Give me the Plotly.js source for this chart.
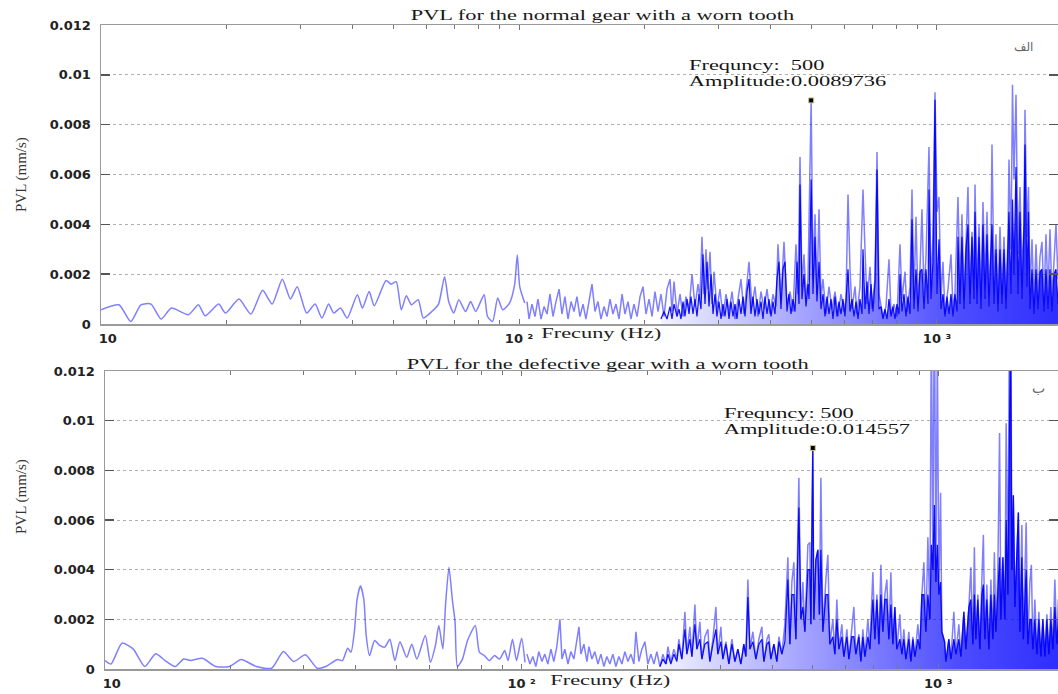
<!DOCTYPE html>
<html>
<head>
<meta charset="utf-8">
<script src="https://cdn.plot.ly/plotly-3.0.1.min.js"></script>
<style>
html,body{margin:0;padding:0;background:#ffffff;}
#plot{width:1058px;height:694px;}
</style>
</head>
<body>
<div id="plot"></div>
<script>
// ---------------- DATA ----------------
// Panel titles / labels
const panelTitles = ['PVL for the normal gear with a worn tooth', 'PVL for the defective gear with a worn tooth'];
const xTitle = 'Frecuny (Hz)';
const yTitle = 'PVL (mm/s)';
const peakFreqLabels = ['Frequncy:\u00a0\u00a0500', 'Frequncy:\u00a0500'];
const peakAmpLabels = ['Amplitude:0.0089736', 'Amplitude:0.014557'];
const panelLetters = ['\u0627\u0644\u0641', '\u0628'];

// Tick labels
const freqTickVals = [10, 100, 1000];
const freqTickText = ['\u00a0\u00a0\u00a010', '10\u00a0\u00b2', '10\u00a0\u00b3'];
const freqMinorVals = [20,30,40,50,60,70,80,90,200,300,400,500,600,700,800,900];
const ampTickVals = [0,0.002,0.004,0.006,0.008,0.01,0.012];
const ampTickText = ['0','0.002','0.004','0.006','0.008','0.01','0.012'];

// Marked peak
const markerFreq = [500];
const topMarkerAmp = [0.0089736];
const botMarkerAmp = [0.0089];

// ---- Top panel (normal gear): low-frequency part ----
const topLowFreq = [10,11.04,11.78,12.46,13.17,13.93,14.74,16.18,17.1,17.75,
  19.12,19.85,21.38,22.83,24.36,25.67,27.15,28.39,29.47,31.04,
  32.52,33.76,35.04,36.03,37.4,38.82,41.05,42.21,43.81,45.05,
  48.08,49.45,50.85,52.29,53.77,55.29,57.4,59.02,61.85,64.19,
  66.37,67.89,69.81,71.78,74.5,76.61,78.77,82.53,84.08,86.47,
  88.93,91.45,94.91,97.6,99.07,100.4,103.2];
const topLowAmp = [0.00057,0.00077,0.0001,0.00077,0.0008,0.0002,0.00064,0.00037,0.00077,0.00033,
  0.0008,0.00044,0.001,0.0004,0.00135,0.0008,0.0018,0.001,0.0015,0.00044,
  0.0008,0.00024,0.0008,0.00044,0.00064,0.00024,0.00117,0.00064,0.0013,0.00073,
  0.00175,0.0016,0.0017,0.00057,0.00113,0.00077,0.00097,0.00024,0.0005,0.0008,
  0.0019,0.0009,0.00044,0.00097,0.0005,0.0009,0.0005,0.00117,0.0003,0.0001,
  0.00104,0.00057,0.00084,0.00157,0.00277,0.0015,0.00084];

// ---- Top panel: dense high-frequency part (full envelope) ----
const topHighFreq = [104.5,105.7,107.4,109.2,111.0,112.9,114.8,116.7,118.6,120.6,
  122.6,124.7,126.7,128.8,131.0,133.2,135.4,137.6,139.9,142.3,
  144.6,147.1,149.5,152.0,154.5,157.1,159.7,162.4,165.1,167.8,
  170.6,173.5,176.4,179.3,182.3,185.3,188.4,191.6,194.8,198.0,
  201.3,204.7,208.1,211.5,215.1,218.6,222.3,226.0,229.8,232.3,
  234.9,238.8,242.8,246.8,250.9,255.1,259.4,263.7,268.1,271.0,
  274.0,277.1,280.1,283.2,286.4,289.6,292.8,297.6,302.6,307.6,
  312.8,318.0,323.3,328.7,334.1,339.7,345.4,351.1,355.0,360.9,
  366.9,373.1,379.3,385.6,392.0,398.6,405.2,411.9,416.5,423.4,
  430.5,437.7,445.0,452.4,459.9,465.0,470.2,475.4,480.6,486.0,
  491.4,500,505.1,510.7,516.3,522.1,527.8,533.7,542.6,551.6,
  560.8,570.2,579.7,589.3,599.1,605.8,612.5,619.3,626.1,636.6,
  643.6,654.3,665.2,672.6,680.1,691.4,699.1,710.7,718.6,726.5,
  734.6,742.7,755.1,767.7,776.2,789.1,802.3,815.6,824.7,838.4,
  847.7,861.8,871.4,881.0,890.8,900.7,910.6,920.7,930.9,941.2,
  956.9,967.5,978.2,989.1,1000,1011.1,1022.3,1033.6,1045.1,1062.5,
  1080.2,1092.1,1104.2,1122.6,1135.1,1147.6,1160.4,1173.2,1186.2,1199.4,
  1212.6,1226.1,1232.9,1246.5,1260.3,1274.3,1288.4,1302.7,1317.1,1331.7,
  1346.4,1353.9,1368.9,1384.1,1399.4,1414.9,1430.6,1446.4,1462.5,1478.7,
  1486.8,1503.3,1515.8,1528.3,1545.3,1562.4,1579.7,1597.2,1614.9,1623.8,
  1641.8,1655.4,1669.2,1687.6,1706.3,1725.3,1744.4,1763.7,1783.2,1803.0,
  1822.9,1843.1,1863.6,1884.2,1905.1,1926.2,1947.5];
const topHighAmp = [0.0009,0.0002,0.0008,0.0003,0.0010,0.0002,0.0007,0.0004,0.0012,0.0003,
  0.0009,0.0014,0.0004,0.0011,0.0002,0.0009,0.0005,0.0011,0.0003,0.0008,
  0.0002,0.0010,0.0016,0.0005,0.0009,0.0002,0.0007,0.0003,0.0010,0.0004,
  0.0008,0.0002,0.0012,0.0004,0.0009,0.0002,0.0008,0.0003,0.0011,0.0015,
  0.0004,0.0010,0.0003,0.0013,0.0005,0.0012,0.0003,0.0014,0.0018,0.0005,
  0.0017,0.0004,0.0012,0.0003,0.0011,0.0006,0.0020,0.0007,0.0016,0.0010,
  0.0035,0.0012,0.0030,0.0014,0.0029,0.0008,0.0021,0.0006,0.0014,0.0003,
  0.0012,0.0005,0.0013,0.0002,0.0011,0.0018,0.0004,0.0016,0.0025,0.0007,
  0.0015,0.0003,0.0013,0.0006,0.0014,0.0004,0.0012,0.0007,0.0032,0.0010,
  0.0033,0.0008,0.0013,0.0005,0.0032,0.0012,0.0067,0.0015,0.0028,0.0010,
  0.0018,0.0089736,0.0018,0.0044,0.0012,0.0046,0.0010,0.0018,0.0004,0.0015,
  0.0006,0.0013,0.0003,0.0012,0.0005,0.0010,0.0052,0.0022,0.0006,0.0015,
  0.0004,0.0015,0.0054,0.0030,0.0008,0.0023,0.0006,0.0018,0.0069,0.0012,
  0.0007,0.0003,0.0007,0.0026,0.0004,0.0008,0.0003,0.0032,0.0010,0.0021,
  0.0005,0.0015,0.0054,0.0010,0.0043,0.0008,0.0022,0.0046,0.0012,0.0027,
  0.0071,0.0015,0.0035,0.0093,0.0045,0.0051,0.0010,0.0025,0.0004,0.0014,
  0.0028,0.0006,0.0012,0.0051,0.0015,0.0044,0.0010,0.0033,0.0055,0.0012,
  0.0037,0.0018,0.0056,0.0014,0.0040,0.0010,0.0049,0.0016,0.0045,0.0012,
  0.0032,0.0072,0.0016,0.0036,0.0008,0.0039,0.0012,0.0035,0.0010,0.0035,
  0.0066,0.0030,0.0096,0.0058,0.0092,0.0028,0.0055,0.0020,0.0040,0.0086,
  0.0035,0.0055,0.0012,0.0034,0.0008,0.0032,0.0010,0.0027,0.0033,0.0009,
  0.0036,0.0012,0.0038,0.0010,0.0028,0.0040,0.0018];

// ---- Top panel: dark dense core of the spectrum ----
const topCoreFreq = [218.6,222.3,226.0,229.8,232.3,234.9,238.8,241.4,
  244.1,246.8,249.5,252.3,255.1,257.9,260.8,263.7,266.6,269.5,
  272.5,275.5,278.6,281.7,284.8,288.0,291.2,294.4,297.6,300.9,
  304.3,307.6,311.0,314.5,318.0,321.5,325.1,328.7,332.3,336.0,
  339.7,343.5,347.3,351.1,355.0,358.9,362.9,366.9,371.0,375.1,
  379.3,383.5,387.7,392.0,396.4,400.8,405.2,409.7,414.2,418.8,
  423.4,428.1,432.9,437.7,442.5,447.4,452.4,457.4,462.5,467.6,
  470.2,475.4,480.6,486.0,491.4,494.1,500,505.1,510.7,516.3,
  522.1,527.8,533.7,539.6,545.6,551.6,557.7,563.9,570.2,576.5,
  582.9,589.3,595.8,602.4,612.5,619.3,626.1,633.1,640.1,647.2,
  654.3,661.6,665.2,672.6,680.1,687.6,695.2,702.9,710.7,718.6,
  726.5,734.6,742.7,751.0,759.3,767.7,776.2,784.8,793.5,802.3,
  811.2,815.6,824.7,833.8,843.1,852.4,861.8,871.4,881.0,890.8,
  900.7,910.6,920.7,930.9,941.2,951.7,956.9,967.5,978.2,989.1,
  1000,1011.1,1022.3,1033.6,1045.1,1056.7,1068.4,1080.2,1092.1,1104.2,
  1116.5,1122.6,1135.1,1147.6,1160.4,1173.2,1186.2,1199.4,1212.6,1226.1,
  1232.9,1246.5,1260.3,1274.3,1288.4,1302.7,1317.1,1331.7,1346.4,1353.9,
  1368.9,1384.1,1399.4,1414.9,1430.6,1446.4,1462.5,1478.7,1486.8,1503.3,
  1515.8,1528.3,1545.3,1562.4,1579.7,1597.2,1614.9,1623.8,1641.8,1655.4,
  1669.2,1687.6,1706.3,1725.3,1744.4,1763.7,1783.2,1803.0,1822.9,1843.1,
  1863.6,1884.2,1905.1,1926.2,1947.5];
const topCoreAmp = [0.0002,0.0005,0.0002,0.0007,0.0002,0.0008,0.0003,0.0006,
  0.0002,0.0009,0.0003,0.0010,0.0004,0.0011,0.0004,0.0010,0.0003,0.0012,
  0.0006,0.0028,0.0008,0.0025,0.0007,0.0020,0.0004,0.0012,0.0003,0.0009,
  0.0002,0.0008,0.0003,0.0010,0.0002,0.0009,0.0003,0.0008,0.0002,0.0010,
  0.0004,0.0011,0.0003,0.0013,0.0018,0.0004,0.0011,0.0003,0.0010,0.0004,
  0.0009,0.0002,0.0011,0.0004,0.0010,0.0003,0.0009,0.0004,0.0018,0.0025,
  0.0006,0.0022,0.0025,0.0005,0.0012,0.0004,0.0010,0.0005,0.0025,0.0008,
  0.0056,0.0010,0.0020,0.0007,0.0016,0.0010,0.0058,0.0012,0.0035,0.0009,
  0.0025,0.0006,0.0012,0.0003,0.0011,0.0004,0.0010,0.0002,0.0011,0.0003,
  0.0009,0.0004,0.0010,0.0003,0.0022,0.0005,0.0010,0.0003,0.0009,0.0002,
  0.0010,0.0004,0.0030,0.0006,0.0017,0.0004,0.0016,0.0005,0.0017,0.0062,
  0.0006,0.0007,0.0002,0.0006,0.0002,0.0010,0.0003,0.0007,0.0002,0.0008,
  0.0004,0.0020,0.0005,0.0012,0.0003,0.0011,0.0004,0.0042,0.0006,0.0022,
  0.0005,0.0021,0.0022,0.0006,0.0022,0.0008,0.0054,0.0010,0.0025,0.0090,
  0.0012,0.0034,0.0006,0.0012,0.0003,0.0011,0.0004,0.0012,0.0003,0.0012,
  0.0005,0.0035,0.0008,0.0035,0.0006,0.0030,0.0040,0.0008,0.0035,0.0010,
  0.0045,0.0008,0.0035,0.0006,0.0040,0.0010,0.0036,0.0007,0.0030,0.0040,
  0.0008,0.0030,0.0005,0.0030,0.0008,0.0030,0.0006,0.0032,0.0045,0.0012,
  0.0050,0.0020,0.0063,0.0012,0.0045,0.0010,0.0040,0.0072,0.0015,0.0045,
  0.0006,0.0022,0.0004,0.0022,0.0006,0.0021,0.0022,0.0005,0.0022,0.0006,
  0.0022,0.0005,0.0020,0.0022,0.0008];

// ---- Bottom panel (defective gear): low-frequency part ----
const botLowFreq = [10.0,10.34,10.98,11.68,12.46,13.23,13.94,14.75,15.45,16.04,
  17.13,18.45,19.89,21.23,23.08,25.11,26.81,28.35,30.27,32.31,
  33.86,36.14,37.17,38.23,38.95,39.68,40.28,41.04,41.81,42.36,
  43.16,44.38,45.64,46.94,48.27,49.64,51.05,52.99,54.5,56.05,
  58.73,60.39,62.11,63.28,64.72,65.69,66.93,68.19,69.22,70.13,
  72.12,74.17,77.43,79.19,81.43,83.74,86.12,88.57,91.09,92.81,
  95.08,97.24,100.0,101.9];
const botLowAmp = [0.00034,0.0002,0.00104,0.00081,0.0001,0.00061,0.00034,0.0001,0.0004,0.00034,
  0.00043,0.0001,0.0001,0.00038,0.0001,0.00003,0.0007,0.0003,0.00057,0.00003,
  0.0001,0.00038,0.00034,0.00084,0.00068,0.0015,0.0028,0.00335,0.0028,0.00135,
  0.00054,0.00115,0.00095,0.00088,0.0012,0.00034,0.0011,0.00047,0.001,0.0004,
  0.00135,0.00027,0.00095,0.00175,0.00081,0.0026,0.0041,0.0028,0.0019,0.0001,
  0.0004,0.00115,0.00175,0.00068,0.00054,0.00034,0.00054,0.0004,0.00074,0.00034,
  0.0012,0.00034,0.00124,0.00027];

// ---- Bottom panel: dense high-frequency part (full envelope) ----
const botHighFreq = [103.0,104.7,106.4,108.2,110.0,111.9,113.7,115.6,117.6,119.5,
  121.5,123.6,125.0,127.0,129.2,131.3,133.5,135.8,137.3,138.8,
  141.1,143.5,145.1,147.5,149.9,152.5,155.0,157.6,160.2,162.9,
  165.6,168.4,171.2,174.1,177.0,180.0,183.0,186.0,188.1,191.2,
  194.4,197.7,201.0,204.3,207.8,211.2,214.8,218.4,222.0,224.5,
  228.2,232.0,235.9,238.5,242.5,246.6,249.3,253.5,256.3,260.6,
  263.5,267.9,270.9,275.4,280.0,283.1,287.9,292.7,295.9,300.9,
  304.2,309.3,314.5,319.7,325.1,330.5,336.0,341.6,345.4,349.3,
  353.2,359.1,365.1,371.2,377.4,381.6,388.0,392.3,396.6,403.3,
  410.0,414.6,421.5,428.5,435.7,440.5,445.4,450.4,455.4,463.0,
  468.2,473.4,478.6,486.6,492.0,494.8,500,503.0,508.6,514.3,
  518.6,522.9,528.7,537.5,543.5,549.5,558.7,564.9,571.2,577.6,
  587.2,593.8,603.7,610.4,620.6,627.5,634.5,645.1,652.2,659.5,
  666.8,678.0,685.5,697.0,704.7,712.6,720.5,728.5,736.6,744.8,
  753.0,761.4,769.9,778.4,787.1,795.8,809.1,818.1,827.2,836.4,
  850.4,859.9,869.4,879.1,893.8,903.7,913.8,923.9,934.2,944.6,
  955.1,963.0,971.0,979.1,987.3,995.5,1003.8,1013.2,1020.6,1035.9,
  1043.4,1060.8,1072.6,1090.5,1102.7,1121.1,1133.6,1152.5,1165.3,1184.8,
  1198.0,1211.3,1221.4,1231.5,1245.2,1259.1,1273.1,1283.7,1294.4,1308.7,
  1323.3,1338.0,1352.9,1364.1,1375.5,1390.8,1403.9,1414.0,1429.7,1445.6,
  1456.1,1469.8,1482.0,1491.9,1502.7,1515.2,1527.8,1544.8,1557.6,1570.6,
  1588.1,1601.3,1626.2,1641.6,1659.8,1673.7,1687.6,1706.3,1725.3,1744.5,
  1763.9,1783.5,1803.3,1823.4,1843.6,1864.1,1884.8,1905.8,1927.0,1943.0];
const botHighAmp = [0.0006,0.0002,0.0005,0.0001,0.0007,0.0003,0.0006,0.0002,0.0008,0.0003,
  0.0009,0.0020,0.0004,0.0008,0.0002,0.0007,0.0004,0.0011,0.0017,0.0006,
  0.0010,0.0003,0.0009,0.0004,0.0007,0.0002,0.0006,0.0001,0.0005,0.0002,
  0.0006,0.0001,0.0005,0.0002,0.0007,0.0003,0.0006,0.0002,0.0015,0.0003,
  0.0008,0.0011,0.0002,0.0006,0.0002,0.0007,0.0001,0.0006,0.0002,0.0009,
  0.0003,0.0008,0.0004,0.0012,0.0004,0.0023,0.0006,0.0017,0.0005,0.0026,
  0.0008,0.0019,0.0004,0.0013,0.0016,0.0003,0.0012,0.0025,0.0006,0.0017,
  0.0004,0.0011,0.0002,0.0012,0.0003,0.0008,0.0002,0.0010,0.0005,0.0036,
  0.0008,0.0015,0.0004,0.0012,0.0017,0.0003,0.0012,0.0014,0.0004,0.0010,
  0.0003,0.0013,0.0006,0.0018,0.0045,0.0010,0.0035,0.0043,0.0012,0.0077,
  0.0020,0.0035,0.0015,0.0050,0.0051,0.0018,0.0089,0.0020,0.0044,0.0048,
  0.0022,0.0077,0.0015,0.0036,0.0046,0.0010,0.0020,0.0006,0.0028,0.0008,
  0.0018,0.0005,0.0016,0.0004,0.0017,0.0025,0.0006,0.0014,0.0003,0.0016,
  0.0005,0.0020,0.0008,0.0039,0.0012,0.0030,0.0010,0.0042,0.0015,0.0030,
  0.0036,0.0012,0.0039,0.0010,0.0025,0.0008,0.0022,0.0006,0.0016,0.0004,
  0.0015,0.0003,0.0013,0.0005,0.0018,0.0008,0.0030,0.0043,0.0015,0.0053,
  0.0020,0.0145,0.0040,0.0160,0.0035,0.0130,0.0030,0.0071,0.0015,0.0011,
  0.0003,0.0012,0.0004,0.0023,0.0006,0.0018,0.0005,0.0023,0.0008,0.0025,
  0.0041,0.0010,0.0049,0.0012,0.0030,0.0008,0.0036,0.0054,0.0012,0.0034,
  0.0008,0.0036,0.0012,0.0047,0.0015,0.0040,0.0095,0.0020,0.0045,0.0020,
  0.0099,0.0030,0.0140,0.0170,0.0040,0.0070,0.0025,0.0050,0.0063,0.0015,
  0.0058,0.0012,0.0059,0.0010,0.0035,0.0042,0.0008,0.0028,0.0006,0.0023,
  0.0005,0.0020,0.0005,0.0022,0.0006,0.0025,0.0008,0.0036,0.0010,0.0028];

// ---- Bottom panel: dark dense core ----
const botCoreFreq = [214.8,218.4,222.0,224.5,228.2,232.0,235.9,
  238.5,242.5,246.6,249.3,253.5,256.3,260.6,263.5,267.9,270.9,
  275.4,280.0,283.1,287.9,292.7,295.9,300.9,304.2,309.3,314.5,
  319.7,325.1,330.5,336.0,341.6,345.4,349.3,353.2,359.1,365.1,
  371.2,377.4,381.6,388.0,392.3,396.6,403.3,410.0,414.6,421.5,
  428.5,435.7,440.5,445.4,450.4,455.4,463.0,468.2,473.4,478.6,
  486.6,492.0,494.8,500,503.0,508.6,514.3,518.6,522.9,528.7,
  537.5,543.5,549.5,558.7,564.9,571.2,577.6,587.2,593.8,603.7,
  610.4,620.6,627.5,634.5,645.1,652.2,659.5,666.8,678.0,685.5,
  697.0,704.7,712.6,720.5,728.5,736.6,744.8,753.0,761.4,769.9,
  778.4,787.1,795.8,809.1,818.1,827.2,836.4,850.4,859.9,869.4,
  879.1,893.8,903.7,913.8,923.9,934.2,944.6,955.1,963.0,971.0,
  979.1,987.3,995.5,1003.8,1013.2,1020.6,1035.9,1043.4,1060.8,1072.6,
  1090.5,1102.7,1121.1,1133.6,1152.5,1165.3,1184.8,1198.0,1211.3,1221.4,
  1231.5,1245.2,1259.1,1273.1,1283.7,1294.4,1308.7,1323.3,1338.0,1352.9,
  1364.1,1375.5,1390.8,1403.9,1414.0,1429.7,1445.6,1456.1,1469.8,1482.0,
  1491.9,1502.7,1515.2,1527.8,1544.8,1557.6,1570.6,1588.1,1601.3,1626.2,
  1641.6,1659.8,1673.7,1687.6,1706.3,1725.3,1744.5,1763.9,1783.5,1803.3,
  1823.4,1843.6,1864.1,1884.8,1905.8,1927.0,1943.0];
const botCoreAmp = [0.0001,0.0004,0.0002,0.0006,0.0002,0.0006,0.0003,
  0.0010,0.0004,0.0016,0.0006,0.0012,0.0005,0.0018,0.0008,0.0012,0.0004,
  0.0010,0.0011,0.0003,0.0010,0.0016,0.0006,0.0011,0.0004,0.0010,0.0002,
  0.0010,0.0003,0.0008,0.0002,0.0010,0.0005,0.0029,0.0008,0.0011,0.0004,
  0.0010,0.0012,0.0003,0.0010,0.0011,0.0004,0.0010,0.0003,0.0011,0.0006,
  0.0011,0.0036,0.0010,0.0030,0.0030,0.0012,0.0065,0.0020,0.0025,0.0015,
  0.0040,0.0040,0.0018,0.0089,0.0020,0.0044,0.0048,0.0022,0.0048,0.0015,
  0.0030,0.0030,0.0010,0.0013,0.0006,0.0020,0.0008,0.0013,0.0005,0.0013,
  0.0004,0.0013,0.0013,0.0006,0.0013,0.0003,0.0013,0.0005,0.0013,0.0008,
  0.0028,0.0012,0.0028,0.0010,0.0030,0.0015,0.0028,0.0028,0.0012,0.0026,
  0.0010,0.0025,0.0008,0.0012,0.0006,0.0012,0.0004,0.0012,0.0003,0.0012,
  0.0005,0.0012,0.0008,0.0030,0.0030,0.0015,0.0030,0.0020,0.0050,0.0040,
  0.0066,0.0035,0.0050,0.0030,0.0035,0.0015,0.0011,0.0003,0.0012,0.0004,
  0.0012,0.0006,0.0012,0.0005,0.0023,0.0008,0.0025,0.0028,0.0010,0.0030,
  0.0012,0.0028,0.0008,0.0030,0.0034,0.0012,0.0028,0.0008,0.0030,0.0012,
  0.0030,0.0015,0.0030,0.0045,0.0020,0.0045,0.0020,0.0060,0.0030,0.0100,
  0.0140,0.0040,0.0070,0.0025,0.0050,0.0063,0.0015,0.0045,0.0012,0.0040,
  0.0010,0.0020,0.0020,0.0008,0.0020,0.0006,0.0020,0.0005,0.0020,0.0005,
  0.0020,0.0006,0.0020,0.0008,0.0025,0.0010,0.0020];

// ---------------- CHART ----------------
const W = 1058, H = 694;
const fx = v => v / W;          // pixel -> paper x
const fy = v => 1 - v / H;      // pixel -> paper y
const serif = 'Liberation Serif, Times New Roman, serif';
const sans = 'DejaVu Sans, Verdana, sans-serif';

const lightLine = {color: 'rgba(0,0,255,0.5)', width: 1.5};
const coreLine = {color: 'rgba(0,0,250,0.92)', width: 1.25};
const coreFill = {type: 'horizontal', colorscale: [[0, 'rgba(0,0,255,0.05)'], [0.35, 'rgba(0,0,255,0.35)'], [0.75, 'rgba(0,0,255,0.7)'], [1, 'rgba(0,0,255,0.82)']]};
const peakMarker = {symbol: 'square', size: 5, color: '#000000', line: {color: '#c9c78f', width: 1}};

function line(x, y, xa, ya, style, spline, filled) {
  const l = Object.assign({}, style);
  if (spline) { l.shape = 'spline'; l.smoothing = 0.6; }
  const t = {x: x, y: y, xaxis: xa, yaxis: ya, type: 'scatter', mode: 'lines', line: l, hoverinfo: 'skip', showlegend: false};
  if (filled) { t.fill = 'tozeroy'; t.fillcolor = 'rgba(0,0,255,0.4)'; t.fillgradient = coreFill; }
  return t;
}

const traces = [
  line(topLowFreq, topLowAmp, 'x', 'y', lightLine, true),
  line(topHighFreq, topHighAmp, 'x', 'y', lightLine, false),
  line(topCoreFreq, topCoreAmp, 'x', 'y', coreLine, false, true),
  {x: markerFreq, y: topMarkerAmp, xaxis: 'x', yaxis: 'y', type: 'scatter', mode: 'markers', marker: peakMarker, hoverinfo: 'skip', showlegend: false},
  line(botLowFreq, botLowAmp, 'x2', 'y2', lightLine, true),
  line(botHighFreq, botHighAmp, 'x2', 'y2', lightLine, false),
  line(botCoreFreq, botCoreAmp, 'x2', 'y2', coreLine, false, true),
  {x: markerFreq, y: botMarkerAmp, xaxis: 'x2', yaxis: 'y2', type: 'scatter', mode: 'markers', marker: peakMarker, hoverinfo: 'skip', showlegend: false}
];

function xAxis(domain, range, anchor) {
  return {
    type: 'log', domain: domain, range: range, anchor: anchor,
    tickmode: 'array', tickvals: freqTickVals, ticktext: freqTickText,
    ticks: 'inside', ticklen: 5, tickwidth: 1, tickcolor: '#777',
    minor: {tickmode: 'array', tickvals: freqMinorVals, ticks: 'inside', ticklen: 4, tickwidth: 1, tickcolor: '#777', showgrid: false},
    mirror: 'ticks', showline: true, linecolor: '#9a9a9a', linewidth: 1.5,
    showgrid: false, zeroline: false, ticklabelstandoff: 2,
    tickfont: {family: sans, size: 13, color: '#222', weight: 'bold'},
    fixedrange: true
  };
}
function yAxis(domain, anchor) {
  return {
    range: [0, 0.012], domain: domain, anchor: anchor,
    tickmode: 'array', tickvals: ampTickVals, ticktext: ampTickText,
    ticks: 'inside', ticklen: 9, tickwidth: 1.5, tickcolor: '#555',
    mirror: 'ticks', showline: true, linecolor: '#9a9a9a', linewidth: 1.5,
    showgrid: true, gridcolor: '#b0b0b0', griddash: 'dot', gridwidth: 1,
    zeroline: false, ticklabelstandoff: 6,
    tickfont: {family: sans, size: 13, color: '#222', weight: 'bold'},
    fixedrange: true
  };
}

const S = 1.49; // horizontal stretch of the reference lettering
const annSpec = [
  // [text, xpx, ypx, xanchor, font, size, color, stretch, angle]
  [panelTitles[0], 602.5, 15.2, 'center', serif, 15, '#1a1a1a', S, 0],
  [panelTitles[1], 607.6, 363.5, 'center', serif, 15, '#1a1a1a', S, 0],
  [peakFreqLabels[0], 686.5, 64.6, 'left', serif, 15, '#151515', S, 0],
  [peakAmpLabels[0], 686.5, 81.2, 'left', serif, 15, '#151515', S, 0],
  [peakFreqLabels[1], 721.5, 413.4, 'left', serif, 15, '#151515', S, 0],
  [peakAmpLabels[1], 721.5, 429.2, 'left', serif, 15, '#151515', S, 0],
  [xTitle, 601, 333, 'center', serif, 15, '#222', S, 0],
  [xTitle, 610, 680, 'center', serif, 15, '#222', S, 0],
  [yTitle, 21, 175, 'center', serif, 15, '#333', 1, -90],
  [yTitle, 21, 497, 'center', serif, 15, '#333', 1, -90],
  [panelLetters[0], 1023, 47, 'center', sans, 12, '#666', 1, 0],
  [panelLetters[1], 1038, 388, 'center', sans, 14, '#666', 1, 0]
];
const annotations = annSpec.map(a => ({
  text: a[0], x: fx(a[1]), y: fy(a[2]), xref: 'paper', yref: 'paper',
  xanchor: a[3], yanchor: 'middle', showarrow: false, textangle: a[8],
  font: {family: a[4], size: a[5], color: a[6]}
}));

const layout = {
  width: W, height: H,
  margin: {l: 0, r: 0, t: 0, b: 0, pad: 0},
  paper_bgcolor: '#ffffff', plot_bgcolor: '#ffffff',
  showlegend: false,
  xaxis: xAxis([101 / W, 1], [1, 3.2895], 'y'),
  yaxis: yAxis([fy(324), fy(25)], 'x'),
  xaxis2: xAxis([105 / W, 1], [1, 3.2876], 'y2'),
  yaxis2: yAxis([fy(669), fy(371)], 'x2'),
  annotations: annotations
};

const gd = document.getElementById('plot');
Plotly.newPlot(gd, traces, layout, {displayModeBar: false, staticPlot: true}).then(function () {
  // widen the serif lettering like the (horizontally stretched) reference
  gd.querySelectorAll('g.annotation').forEach(function (g) {
    const i = +g.getAttribute('data-index');
    const spec = annSpec[i];
    if (!spec || spec[7] === 1) return;
    const t = g.querySelector('text.annotation-text');
    if (!t) return;
    const bb = t.getBBox();
    const w = bb.width * spec[7];
    t.setAttribute('textLength', w.toFixed(1));
    t.setAttribute('lengthAdjust', 'spacingAndGlyphs');
    if (spec[3] === 'left') {
      const anchor = t.getAttribute('text-anchor') || 'start';
      const x0 = parseFloat(t.getAttribute('x')) || 0;
      if (anchor === 'middle') t.setAttribute('x', (x0 + (w - bb.width) / 2).toFixed(1));
      else if (anchor === 'end') t.setAttribute('x', (x0 + (w - bb.width)).toFixed(1));
    }
  });
});
</script>
</body>
</html>
